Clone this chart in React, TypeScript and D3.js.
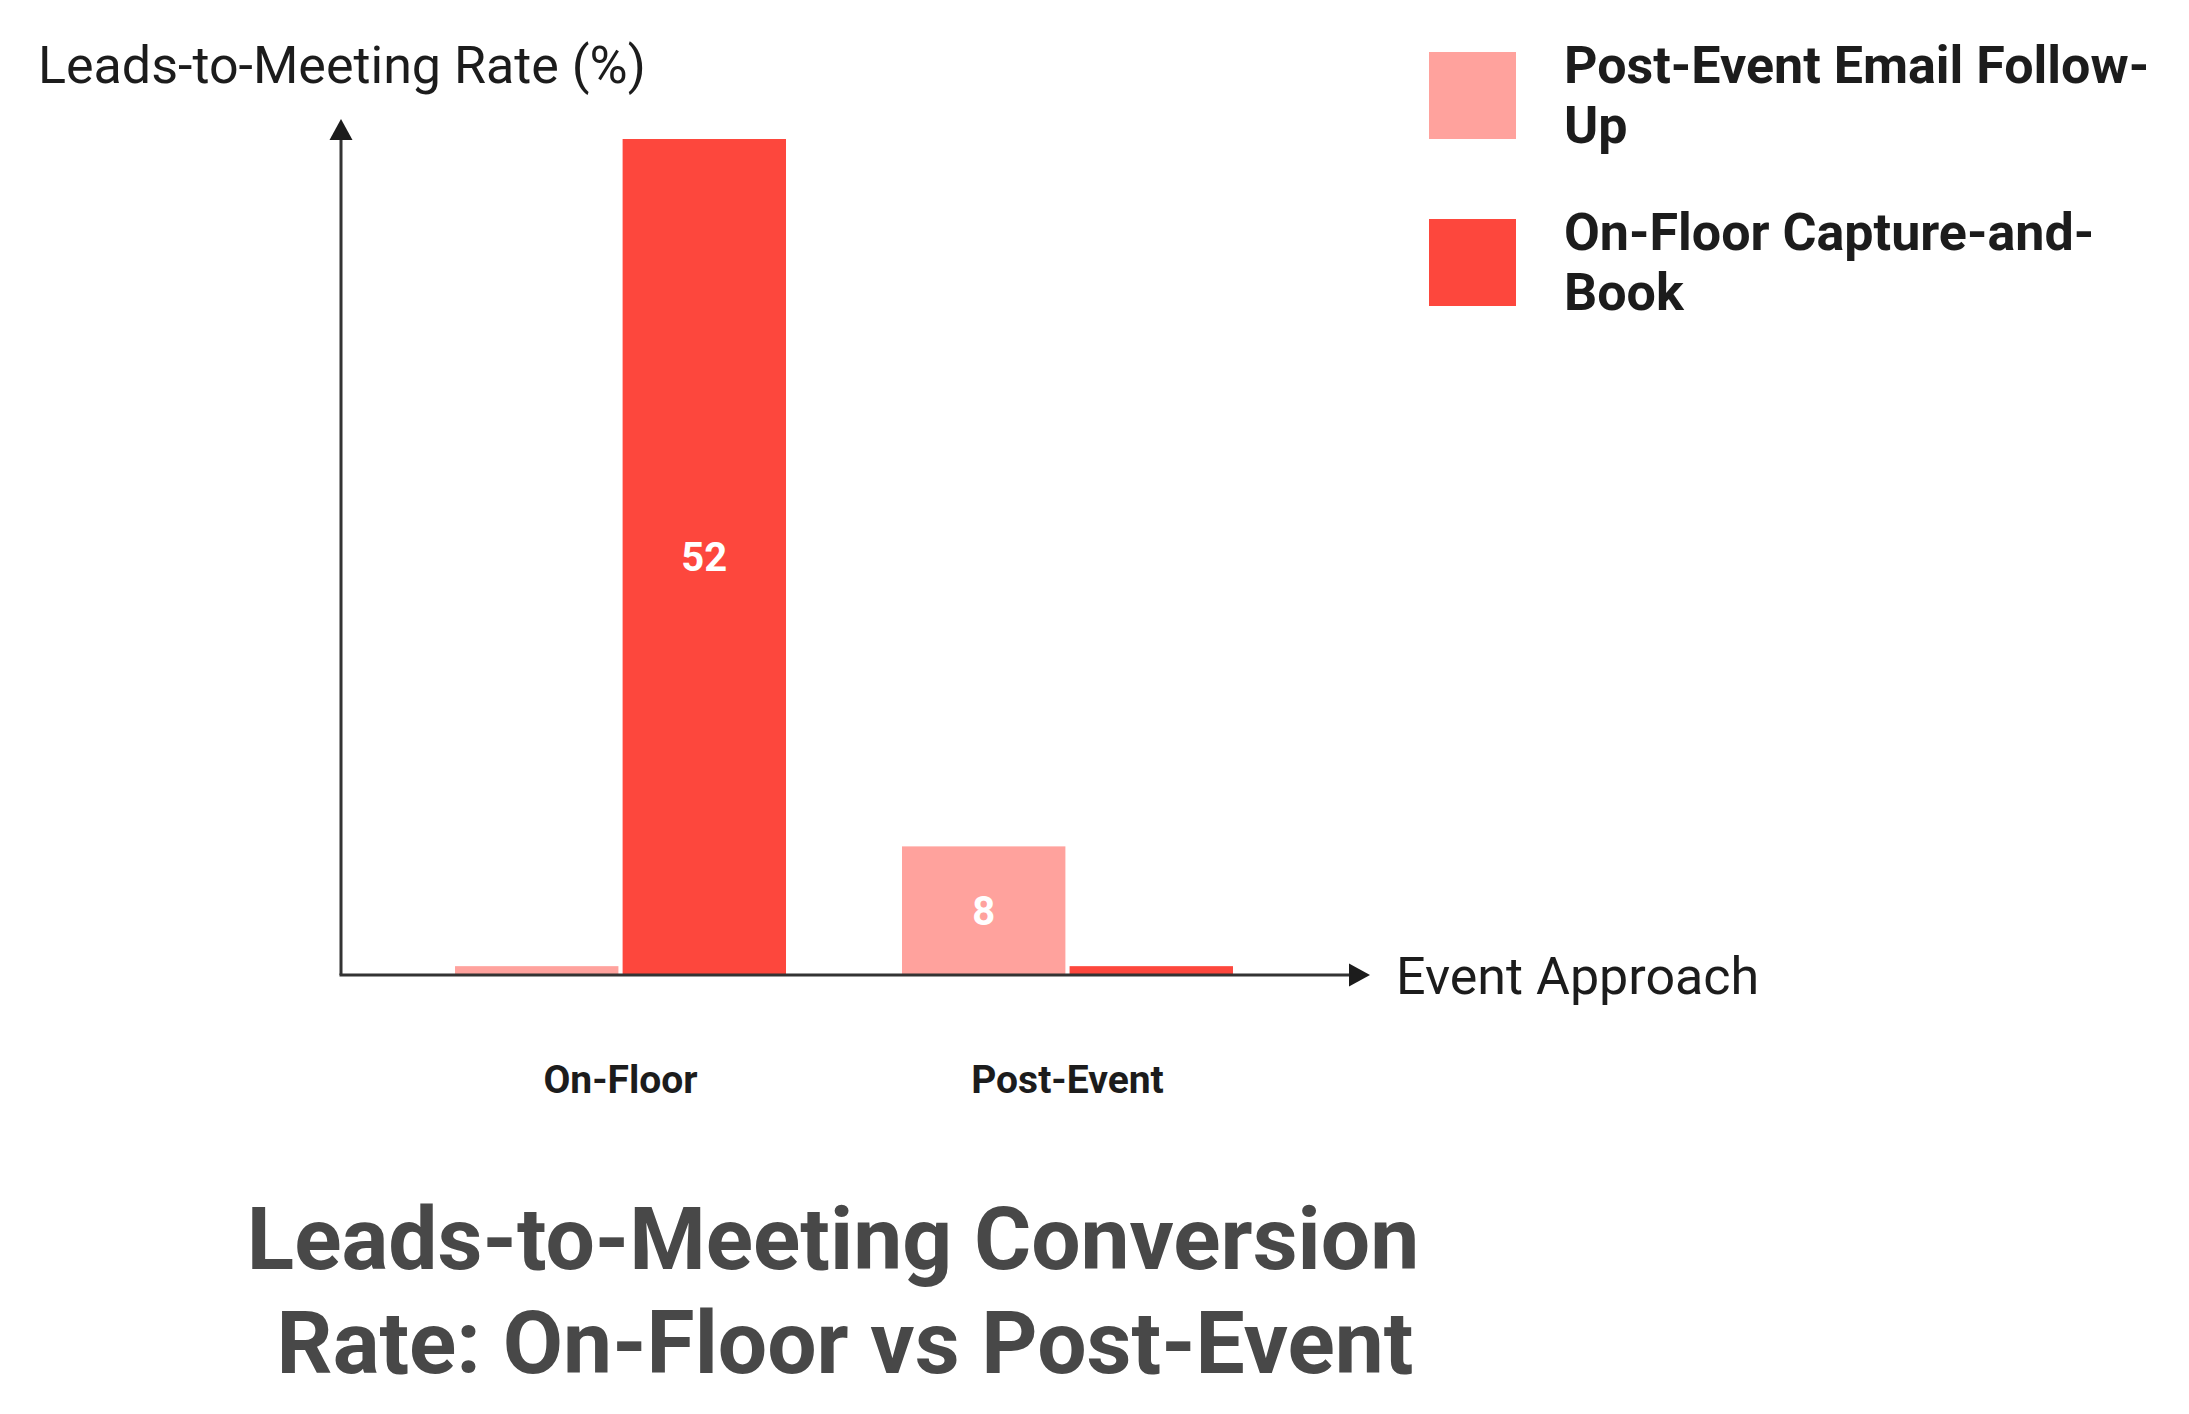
import { useEffect } from "react";
import * as d3 from "d3";

const WIDTH = 2189;
const HEIGHT = 1414;

const categories = ["On-Floor", "Post-Event"];
const seriesNames = ["Post-Event Email Follow-Up", "On-Floor Capture-and-Book"];
const legendLines = [["Post-Event Email Follow-", "Up"], ["On-Floor Capture-and-", "Book"]];
const seriesColors = ["#ffa29d", "#fd473d"];
// values per category, in series order
const postEventEmail = [0.55, 8];
const onFloorCapture = [52, 0.55];
const titleLines = ["Leads-to-Meeting Conversion", "Rate: On-Floor vs Post-Event"];
const yAxisTitle = "Leads-to-Meeting Rate (%)";
const xAxisTitle = "Event Approach";

const FONT = "Roboto, 'Noto Sans', sans-serif";
const AXIS_X = 341;
const BASE_Y = 975;
const TOP_Y = 139;

export default function App() {
  useEffect(() => {
    document.body.style.margin = "0";
  }, []);

  const rows = categories.map((c, i) => ({
    category: c,
    values: [postEventEmail[i], onFloorCapture[i]],
  }));

  const x0 = d3
    .scaleBand<string>()
    .domain(categories)
    .range([397, 1291])
    .paddingInner(0.2595)
    .paddingOuter(0.1298);

  const x1 = d3
    .scaleBand<number>()
    .domain([0, 1])
    .range([0, x0.bandwidth()])
    .paddingInner(0.025);

  const y = d3.scaleLinear().domain([0, 52]).range([BASE_Y, TOP_Y]);

  const axisColor = "#333333";
  // second title line sits a little right of the first (trailing space in the source)
  const titleX = [833, 845];

  return (
    <svg width={WIDTH} height={HEIGHT} style={{ display: "block", background: "#fff" }} fontFamily={FONT}>
      {/* y axis title */}
      <text x={38} y={83} fontSize={52} fill="#1c1c1c">
        {yAxisTitle}
      </text>

      {/* bars */}
      {rows.map((row) => (
        <g key={row.category} transform={`translate(${x0(row.category)},0)`}>
          {row.values.map((v, s) => {
            const bx = x1(s) ?? 0;
            const by = y(v);
            const h = BASE_Y - by;
            return (
              <g key={s}>
                <rect x={bx} y={by} width={x1.bandwidth()} height={h} fill={seriesColors[s]} />
                {v >= 1 && (
                  <text
                    x={bx + x1.bandwidth() / 2}
                    y={by + h / 2 + 14}
                    textAnchor="middle"
                    fontSize={40}
                    fontWeight={700}
                    fill="#ffffff"
                  >
                    {v}
                  </text>
                )}
              </g>
            );
          })}
        </g>
      ))}

      {/* axes */}
      <line x1={AXIS_X} y1={BASE_Y} x2={AXIS_X} y2={138} stroke={axisColor} strokeWidth={3} />
      <path d={`M${AXIS_X},119 L${AXIS_X - 11.5},140 L${AXIS_X + 11.5},140 Z`} fill="#1c1c1c" />
      <line x1={AXIS_X - 1.5} y1={BASE_Y} x2={1350} y2={BASE_Y} stroke={axisColor} strokeWidth={3} />
      <path d={`M1370,${BASE_Y} L1349,${BASE_Y - 11.5} L1349,${BASE_Y + 11.5} Z`} fill="#1c1c1c" />

      <text x={1396} y={BASE_Y + 19} fontSize={52} fill="#1c1c1c">
        {xAxisTitle}
      </text>

      {/* category labels */}
      {categories.map((c) => (
        <text
          key={c}
          x={(x0(c) ?? 0) + x0.bandwidth() / 2}
          y={1093}
          textAnchor="middle"
          fontSize={39}
          fontWeight={700}
          fill="#1c1c1c"
        >
          {c}
        </text>
      ))}

      {/* legend */}
      {seriesNames.map((name, i) => (
        <g key={name} transform={`translate(1429,${52 + i * 167})`} aria-label={name}>
          <rect width={87} height={87} fill={seriesColors[i]} />
          <text x={135} y={31} fontSize={52} fontWeight={700} fill="#1c1c1c">
            {legendLines[i].map((line, k) => (
              <tspan key={k} x={135} dy={k === 0 ? 0 : 60}>
                {line}
              </tspan>
            ))}
          </text>
        </g>
      ))}

      {/* title */}
      <text y={1269} textAnchor="middle" fontSize={87.5} fontWeight={700} fill="#484848">
        {titleLines.map((line, k) => (
          <tspan key={k} x={titleX[k]} dy={k === 0 ? 0 : 104}>
            {line}
          </tspan>
        ))}
      </text>
    </svg>
  );
}
